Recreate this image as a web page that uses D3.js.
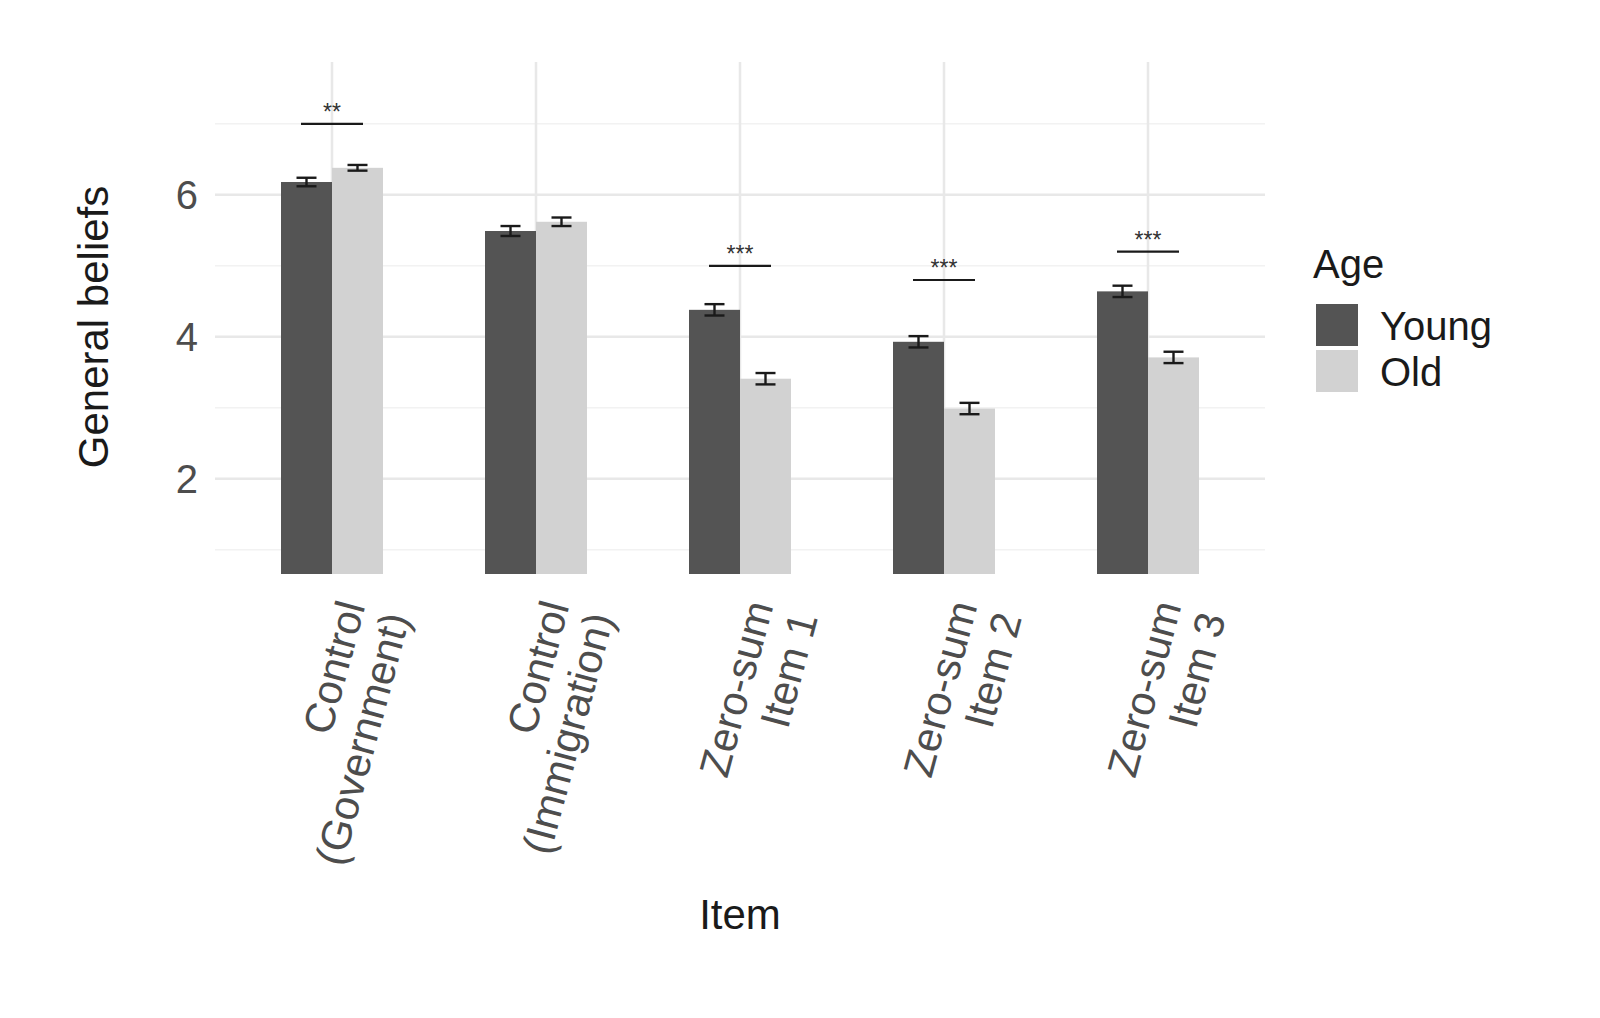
<!DOCTYPE html>
<html><head><meta charset="utf-8">
<script src="https://cdn.jsdelivr.net/npm/d3@7"></script>
<style>body{margin:0;background:#fff}text{font-family:"Liberation Sans",Arial,sans-serif}</style>
</head><body><div id="chart"></div>
<script>
const categories = [["Control","(Government)"],["Control","(Immigration)"],["Zero-sum","Item 1"],["Zero-sum","Item 2"],["Zero-sum","Item 3"]];
const groups = ["Young","Old"];
const young = [6.18, 5.49, 4.38, 3.93, 4.64];
const old = [6.38, 5.62, 3.41, 2.99, 3.71];
const youngErr = [0.06, 0.07, 0.08, 0.08, 0.08];
const oldErr = [0.04, 0.06, 0.08, 0.08, 0.08];
const sigLabels = ["**", "", "***", "***", "***"];
const sigLevels = [7.0, null, 5.0, 4.8, 5.2];
const yTicks = [2, 4, 6];
const colors = {Young: "#545454", Old: "#d2d2d2"};

const W = 1600, H = 1018;
const m = {left: 215, right: 1265, top: 62, bottom: 574};
const svg = d3.select("#chart").append("svg").attr("width", W).attr("height", H);

const x = d3.scaleBand().domain(d3.range(categories.length)).range([m.left + 15, m.right - 15]).paddingInner(0.5).paddingOuter(0.25);
const xs = d3.scaleBand().domain(groups).range([0, x.bandwidth()]);
const y = d3.scaleLinear().domain([0.66, 7.87]).range([m.bottom, m.top]);

const g = svg.append("g");
// grid
[1, 3, 5, 7].forEach(v => g.append("line").attr("x1", m.left).attr("x2", m.right).attr("y1", y(v)).attr("y2", y(v)).attr("stroke", "#f2f2f2").attr("stroke-width", 1.5));
yTicks.forEach(v => g.append("line").attr("x1", m.left).attr("x2", m.right).attr("y1", y(v)).attr("y2", y(v)).attr("stroke", "#e8e8e8").attr("stroke-width", 2.5));
categories.forEach((c, i) => g.append("line").attr("x1", x(i) + x.bandwidth() / 2).attr("x2", x(i) + x.bandwidth() / 2).attr("y1", m.top).attr("y2", m.bottom).attr("stroke", "#e8e8e8").attr("stroke-width", 2.5));

const rows = categories.map((c, i) => [{k: "Young", v: young[i], e: youngErr[i], i}, {k: "Old", v: old[i], e: oldErr[i], i}]).flat();
g.selectAll("rect.bar").data(rows).join("rect")
  .attr("x", d => x(d.i) + xs(d.k)).attr("width", xs.bandwidth())
  .attr("y", d => y(d.v)).attr("height", d => m.bottom - y(d.v))
  .attr("fill", d => colors[d.k]);
rows.forEach(d => {
  const cx = x(d.i) + xs(d.k) + xs.bandwidth() / 2, w = 10;
  const e = g.append("g").attr("stroke", "#1a1a1a").attr("stroke-width", 2.4);
  e.append("line").attr("x1", cx).attr("x2", cx).attr("y1", y(d.v - d.e)).attr("y2", y(d.v + d.e));
  e.append("line").attr("x1", cx - w).attr("x2", cx + w).attr("y1", y(d.v - d.e)).attr("y2", y(d.v - d.e));
  e.append("line").attr("x1", cx - w).attr("x2", cx + w).attr("y1", y(d.v + d.e)).attr("y2", y(d.v + d.e));
});
// significance
sigLevels.forEach((s, i) => {
  if (s == null) return;
  const cx = x(i) + x.bandwidth() / 2;
  g.append("line").attr("x1", cx - 31).attr("x2", cx + 31).attr("y1", y(s)).attr("y2", y(s)).attr("stroke", "#1a1a1a").attr("stroke-width", 2.2);
  g.append("text").attr("x", cx).attr("y", y(s) - 4).attr("text-anchor", "middle").attr("font-size", 23).attr("fill", "#333").text(sigLabels[i]);
});
// y axis
yTicks.forEach(v => g.append("text").attr("x", 198).attr("y", y(v) + 14).attr("text-anchor", "end").attr("font-size", 40).attr("fill", "#4d4d4d").text(v));
svg.append("text").attr("transform", "translate(108,327) rotate(-90)").attr("text-anchor", "middle").attr("font-size", 42).attr("fill", "#1a1a1a").text("General beliefs");
// x labels
categories.forEach((c, i) => {
  const cx = x(i) + x.bandwidth() / 2;
  const t = svg.append("g").attr("transform", `translate(${cx + 20},602) rotate(-75)`);
  c.forEach((line, j) => t.append("text").attr("x", 0).attr("y", 14 + j * 46).attr("text-anchor", "end").attr("font-size", 42).attr("fill", "#4d4d4d").text(line));
});
svg.append("text").attr("x", 740).attr("y", 929).attr("text-anchor", "middle").attr("font-size", 42).attr("fill", "#1a1a1a").text("Item");
// legend
svg.append("text").attr("x", 1313).attr("y", 278).attr("font-size", 40).attr("fill", "#1a1a1a").text("Age");
groups.forEach((k, j) => {
  svg.append("rect").attr("x", 1316).attr("y", 304 + j * 46).attr("width", 42).attr("height", 42).attr("fill", colors[k]);
  svg.append("text").attr("x", 1380).attr("y", 340 + j * 46).attr("font-size", 40).attr("fill", "#1a1a1a").text(k);
});
</script></body></html>
